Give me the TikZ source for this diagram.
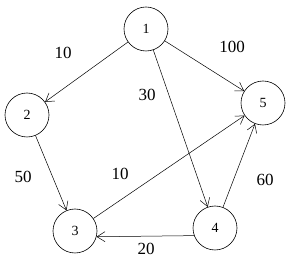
\documentclass[tikz,border=0pt]{standalone}
\usepackage{fontspec}
\setmainfont{Liberation Serif}
\usepackage{tikz}
\usetikzlibrary{arrows.meta}

\tikzset{
  vertex/.style={draw, circle, minimum size=44pt, inner sep=0pt, line width=0.6pt,
    font=\fontsize{14}{16}\selectfont},
  edge/.style={-{Straight Barb[length=8pt, width=10pt]}, line width=0.5pt},
  weight/.style={font=\fontsize{17}{19}\selectfont}
}

\begin{document}
\begin{tikzpicture}[x=1pt, y=-1pt]
  \useasboundingbox (0,0) rectangle (300,264);

  % vertices
  \node[vertex] (n1) at (146,29) {1};
  \node[vertex] (n2) at (27,115) {2};
  \node[vertex] (n3) at (75,231) {3};
  \node[vertex] (n4) at (215,228) {4};
  \node[vertex] (n5) at (263,103) {5};

  % arcs
  \draw[edge] (n1) -- (n2);
  \draw[edge] (n1) -- (n5);
  \draw[edge] (n1) -- (n4);
  \draw[edge] (n2) -- (n3);
  \draw[edge] (n3) -- (n5);
  \draw[edge] (n4.200) -- (n3.-15);
  \draw[edge] (n4) -- (n5);

  % weights
  \node[weight] (w12) at (63,53) {10};
  \node[weight] (w15) at (232,47) {100};
  \node[weight] (w14) at (147,95) {30};
  \node[weight] (w23) at (23,177) {50};
  \node[weight] (w35) at (120,174) {10};
  \node[weight] (w45) at (265,180) {60};
  \node[weight] (w43) at (146,249) {20};
\end{tikzpicture}
\end{document}
